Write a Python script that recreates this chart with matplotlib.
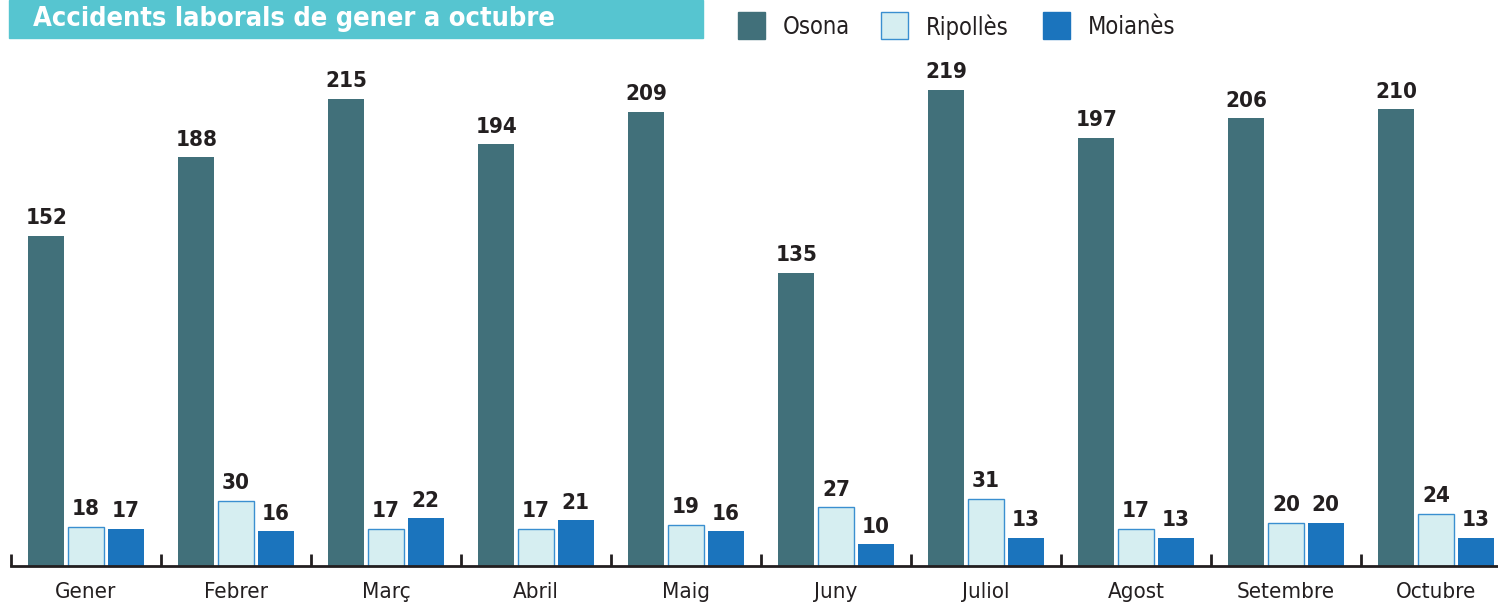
import matplotlib.pyplot as plt
from matplotlib.patches import Rectangle

plt.rcParams['font.family'] = ['DejaVu Sans']
plt.rcParams['font.stretch'] = 'condensed'

months = ['Gener', 'Febrer', 'Març', 'Abril', 'Maig', 'Juny', 'Juliol', 'Agost', 'Setembre', 'Octubre']
osona = [152, 188, 215, 194, 209, 135, 219, 197, 206, 210]
ripolles = [18, 30, 17, 17, 19, 27, 31, 17, 20, 24]
moianes = [17, 16, 22, 21, 16, 10, 13, 13, 20, 13]

c_osona = '#41707a'
c_rip = '#d6eef1'
c_rip_edge = '#3a8fd0'
c_moi = '#1b74bd'
txt = '#231f20'

fig = plt.figure(figsize=(14.98, 6.08), dpi=100)
ax = fig.add_axes([11 / 1498, 42 / 608, 1 - 11 / 1498, 566 / 608])

x = [i + 0.5 for i in range(len(months))]
w = 0.24
off = 0.265
ax.bar([v - off for v in x], osona, w, color=c_osona)
ax.bar(x, ripolles, w, color=c_rip, edgecolor=c_rip_edge, linewidth=1)
ax.bar([v + off for v in x], moianes, w, color=c_moi)

for xs, vals in [([v - off for v in x], osona), (x, ripolles), ([v + off for v in x], moianes)]:
    for xi, val in zip(xs, vals):
        ax.annotate(str(val), (xi, val), xytext=(0, 5.5), textcoords='offset points',
                    ha='center', va='bottom', fontsize=16, fontweight='bold', color=txt)

ax.set_xlim(0, 1487 / 150)
ax.set_ylim(0, 566 / 2.174)
for s in ['top', 'right', 'left']:
    ax.spines[s].set_visible(False)
ax.spines['bottom'].set_linewidth(2)
ax.spines['bottom'].set_color(txt)
ax.set_yticks([])
ax.set_xticks(range(len(months)))
ax.set_xticklabels([])
ax.tick_params(axis='x', direction='in', length=9, width=2, color=txt)
for xi, m in zip(x, months):
    ax.annotate(m, (xi, 0), xytext=(0, -19), textcoords='offset points', ha='center', va='center',
                fontsize=16, color=txt, annotation_clip=False)

# title banner
fig.patches.append(Rectangle((9 / 1498, 1 - 38 / 608), 694 / 1498, 38 / 608,
                             transform=fig.transFigure, color='#56c5d0', zorder=0))
fig.text(33 / 1498, 1 - 19 / 608, 'Accidents laborals de gener a octubre', color='white',
         fontsize=19.5, fontweight='bold', ha='left', va='center')

# legend
leg = [('Osona', c_osona, c_osona, 738), ('Ripollès', c_rip, c_rip_edge, 881), ('Moianès', c_moi, c_moi, 1043)]
for name, fc, ec, px in leg:
    fig.patches.append(Rectangle((px / 1498, 1 - 39 / 608), 27 / 1498, 27 / 608,
                                 transform=fig.transFigure, facecolor=fc, edgecolor=ec, linewidth=1))
    fig.text((px + 45) / 1498, 1 - 27 / 608, name, fontsize=17, color=txt, ha='left', va='center')

fig.savefig('out.png', dpi=100)
